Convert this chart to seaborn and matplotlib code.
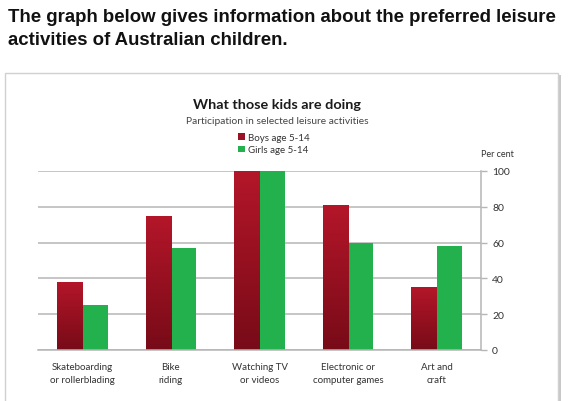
import pandas as pd
import matplotlib.pyplot as plt
import seaborn as sns
import numpy as np
from matplotlib.patches import Rectangle
from matplotlib.colors import LinearSegmentedColormap

# data
activities = ['Skateboarding\nor rollerblading', 'Bike\nriding', 'Watching TV\nor videos',
              'Electronic or\ncomputer games', 'Art and\ncraft']
boys = [38, 75, 100, 81, 35]
girls = [25, 57, 100, 60, 58]
groups = ['Boys age 5-14', 'Girls age 5-14']
yticks = [0, 20, 40, 60, 80, 100]

df = pd.DataFrame({
    'activity': activities * 2,
    'pct': boys + girls,
    'group': [groups[0]] * len(boys) + [groups[1]] * len(girls),
})

sns.set_style('white')
plt.rcParams['font.family'] = ['Lato', 'DejaVu Sans']

boy_col = '#9a1224'
girl_col = '#22b14c'

fig = plt.figure(figsize=(5.7, 4.02), dpi=100)

# card with a soft shadow
fig.patches.append(Rectangle((7 / 570, -0.1), 554 / 570, 1 - 76 / 402 + 0.1,
                             transform=fig.transFigure, facecolor='#c8c8c8',
                             edgecolor='none', zorder=-2))
fig.patches.append(Rectangle((5 / 570, -0.1), 553 / 570, 1 - 74 / 402 + 0.1,
                             transform=fig.transFigure, facecolor='white',
                             edgecolor='#d0d0d0', linewidth=1.0, zorder=-1))

fig.text(8 / 570, 1 - 9 / 402,
         'The graph below gives information about the preferred leisure\nactivities of Australian children.',
         ha='left', va='top', fontsize=13.4, fontweight='bold', color='#111111',
         family=['Liberation Sans', 'DejaVu Sans'], linespacing=1.45)

ax = fig.add_axes([38 / 570, 1 - 351 / 402, 443 / 570, 179 / 402])
sns.barplot(data=df, x='activity', y='pct', hue='group', palette=[boy_col, girl_col],
            width=0.57, gap=0, ax=ax, saturation=1, edgecolor='none')

# vertical gradient on the boys bars
cmap = LinearSegmentedColormap.from_list('boys', ['#780b18', '#b31629'])
grad = np.linspace(0, 1, 64).reshape(-1, 1)
for p in ax.patches[:len(boys)]:
    x0, y0 = p.get_x(), p.get_y()
    w, h = p.get_width(), p.get_height()
    im = ax.imshow(grad, cmap=cmap, origin='lower', aspect='auto',
                   extent=[x0, x0 + w, y0, y0 + h], zorder=p.get_zorder() + 0.1)
    im.set_clip_path(p)
ax.set_xlim(-0.5, len(activities) - 0.5)
ax.set_ylim(0, 100)
ax.set_yticks(yticks)
ax.yaxis.tick_right()
ax.set_axisbelow(True)
ax.grid(axis='y', color='#b5b5b5', linewidth=1.1)
ax.tick_params(axis='y', right=True, length=4, width=1, color='#b5b5b5',
               labelsize=7.5, labelcolor='#333333', pad=4)
ax.tick_params(axis='x', length=0, labelsize=7, labelcolor='#333333', pad=9)
for t in ax.get_xticklabels():
    t.set_linespacing(1.5)
for s in ['top', 'left']:
    ax.spines[s].set_visible(False)
for s in ['right', 'bottom']:
    ax.spines[s].set_color('#b5b5b5')
    ax.spines[s].set_linewidth(1.1)
ax.set_xlabel('')
ax.set_ylabel('')

sns.move_legend(ax, loc='upper left', bbox_to_anchor=(238 / 570, 1 - 134 / 402),
                bbox_transform=fig.transFigure, frameon=False, title=None,
                fontsize=7, handlelength=0.7, handleheight=0.7, handletextpad=0.3,
                labelspacing=0.35, borderpad=0, borderaxespad=0)
for t in ax.get_legend().get_texts():
    t.set_color('#333333')

fig.text(277 / 570, 1 - 105 / 402, 'What those kids are doing', ha='center', va='center',
         fontsize=10.4, fontweight='bold', color='#1a1a1a')
fig.text(277 / 570, 1 - 122 / 402, 'Participation in selected leisure activities',
         ha='center', va='center', fontsize=7.4, color='#444444')
fig.text(497 / 570, 1 - 155 / 402, 'Per cent', ha='center', va='center',
         fontsize=6.5, color='#333333')

fig.savefig('out.png', dpi=100)
